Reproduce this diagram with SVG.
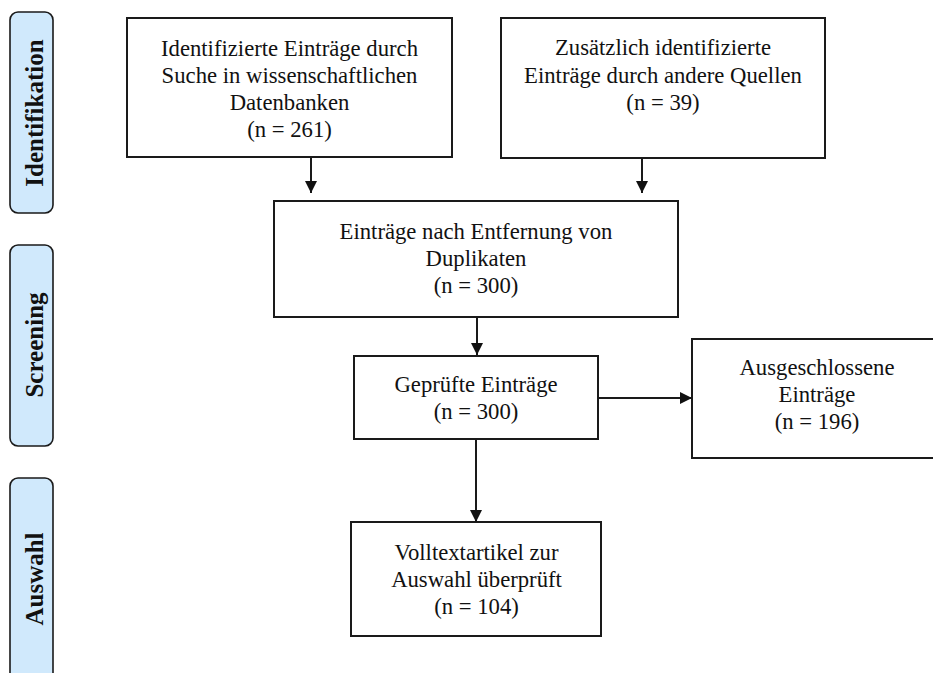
<svg xmlns="http://www.w3.org/2000/svg" width="933" height="673" viewBox="0 0 933 673">
<defs>
<style>
.box{fill:#fff;stroke:#1a1a1a;stroke-width:2}
.side{fill:#d0e9fc;stroke:#1a1a1a;stroke-width:1.6}
.t{font-family:"Liberation Serif","Times New Roman",serif;font-size:22.7px;fill:#111;text-anchor:middle}
.s{font-family:"Liberation Serif","Times New Roman",serif;font-size:25px;font-weight:bold;fill:#111;text-anchor:middle}
.c{stroke:#1a1a1a;stroke-width:2;fill:none;marker-end:url(#ah)}
</style>
<marker id="ah" markerUnits="userSpaceOnUse" markerWidth="12" markerHeight="12" refX="12" refY="6" orient="auto">
<path d="M0,0 L12,6 L0,12 z" fill="#111"/>
</marker>
</defs>
<rect width="933" height="673" fill="#fff"/>
<g id="phase-identifikation">
<rect class="side" x="10" y="12" width="43" height="201" rx="8"/>
<text class="s" transform="translate(43,113) rotate(-90)">Identifikation</text>
</g>
<g id="phase-screening">
<rect class="side" x="10" y="245" width="43" height="201" rx="8"/>
<text class="s" transform="translate(43,345) rotate(-90)">Screening</text>
</g>
<g id="phase-auswahl">
<rect class="side" x="10" y="478" width="43" height="220" rx="8"/>
<text class="s" transform="translate(43,579) rotate(-90)">Auswahl</text>
</g>
<g id="n1">
<rect class="box" x="127" y="18" width="325" height="139"/>
<text class="t" x="289.5" y="55.5">Identifizierte Einträge durch</text>
<text class="t" x="289.5" y="83">Suche in wissenschaftlichen</text>
<text class="t" x="289.5" y="110">Datenbanken</text>
<text class="t" x="289.5" y="137">(n = 261)</text>
</g>
<g id="n2">
<rect class="box" x="501" y="18" width="324" height="140"/>
<text class="t" x="663" y="55">Zusätzlich identifizierte</text>
<text class="t" x="663" y="83">Einträge durch andere Quellen</text>
<text class="t" x="663" y="110">(n = 39)</text>
</g>
<g id="n3">
<rect class="box" x="274" y="201" width="404" height="116"/>
<text class="t" x="476" y="238.5">Einträge nach Entfernung von</text>
<text class="t" x="476" y="265.5">Duplikaten</text>
<text class="t" x="476" y="292.5">(n = 300)</text>
</g>
<g id="n4">
<rect class="box" x="354" y="356" width="244" height="83"/>
<text class="t" x="476" y="391.5">Geprüfte Einträge</text>
<text class="t" x="476" y="419">(n = 300)</text>
</g>
<g id="n5">
<rect class="box" x="692" y="339" width="252" height="119"/>
<text class="t" x="817" y="375">Ausgeschlossene</text>
<text class="t" x="817" y="402">Einträge</text>
<text class="t" x="817" y="428.5">(n = 196)</text>
</g>
<g id="n6">
<rect class="box" x="351" y="522" width="250" height="114"/>
<text class="t" x="476.5" y="560">Volltextartikel zur</text>
<text class="t" x="476.5" y="587">Auswahl überprüft</text>
<text class="t" x="476.5" y="613.5">(n = 104)</text>
</g>
<g id="connectors">
<line class="c" x1="311" y1="157" x2="311" y2="193"/>
<line class="c" x1="642" y1="158" x2="642" y2="193"/>
<line class="c" x1="477" y1="317" x2="477" y2="355"/>
<line class="c" x1="598" y1="398" x2="692" y2="398"/>
<line class="c" x1="476" y1="439" x2="476" y2="522"/>
</g>
</svg>
